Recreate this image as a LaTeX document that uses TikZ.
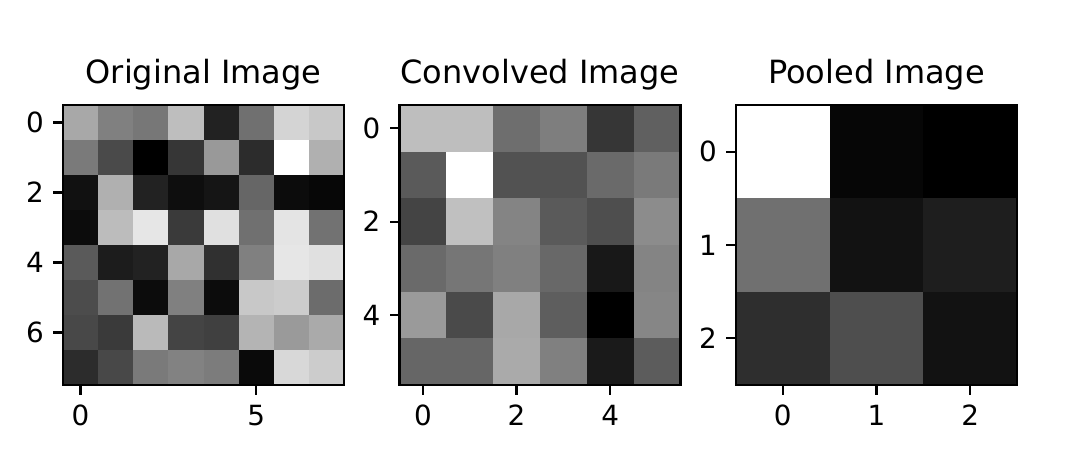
\documentclass[tikz,border=0pt]{standalone}
\usepackage{fontspec}
\setmainfont{DejaVu Sans}
\tikzset{
  axframe/.style={draw=black, line width=2.2pt},
  tickmark/.style={line width=2.2pt},
  ticklabel/.style={font=\fontsize{27.8}{33}\selectfont, inner sep=0pt},
  paneltitle/.style={font=\fontsize{32}{39}\selectfont, inner sep=0pt, anchor=base},
}
\begin{document}
\begin{tikzpicture}[x=1pt,y=-1pt]
\useasboundingbox (0,0) rectangle (1080,475);

% Original Image (8x8)
\foreach \row [count=\r from 0] in {
  {168,128,119,190,34,112,212,200},
  {122,74,0,54,153,44,255,176},
  {17,176,34,14,21,102,12,7},
  {12,188,230,58,224,112,228,114},
  {90,28,34,168,48,128,230,224},
  {76,114,12,128,12,200,204,108},
  {72,58,186,68,64,180,154,170},
  {44,72,122,130,124,10,216,204}}{
  \foreach \v [count=\c from 0] in \row {
    \definecolor{cellc}{RGB}{\v,\v,\v}
    \fill[cellc] ({63+\c*35.125},{105+\r*35}) rectangle +(35.5,35.4);
  }
}
\draw[axframe] (63,105) rectangle (344,385);
\node[paneltitle] (t1) at (203.5,83.5) {Original Image};
\foreach \c in {0,5}{
  \draw[tickmark] ({63+(\c+0.5)*35.125},385) -- +(0,9.7);
  \node[ticklabel,anchor=north] (xa\c) at ({63+(\c+0.5)*35.125},405) {\c};
}
\foreach \r in {0,2,4,6}{
  \draw[tickmark] (63,{105+(\r+0.5)*35}) -- +(-9.7,0);
  \node[ticklabel,anchor=east] (ya\r) at (44,{105+(\r+0.5)*35}) {\r};
}

% Convolved Image (6x6)
\foreach \row [count=\r from 0] in {
  {190,190,110,126,54,96},
  {90,255,82,82,106,122},
  {68,192,132,90,78,140},
  {106,118,128,104,24,132},
  {154,74,168,94,0,134},
  {102,102,170,128,26,92}}{
  \foreach \v [count=\c from 0] in \row {
    \definecolor{cellc}{RGB}{\v,\v,\v}
    \fill[cellc] ({399.5+\c*46.833},{105+\r*46.667}) rectangle +(47.2,47);
  }
}
\draw[axframe] (399.5,105) rectangle (680.5,385);
\node[paneltitle] (t2) at (540,83.5) {Convolved Image};
\foreach \c in {0,2,4}{
  \draw[tickmark] ({399.5+(\c+0.5)*46.833},385) -- +(0,9.7);
  \node[ticklabel,anchor=north] (xb\c) at ({399.5+(\c+0.5)*46.833},405) {\c};
}
\foreach \r in {0,2,4}{
  \draw[tickmark] (399.5,{105+(\r+0.5)*46.667}) -- +(-9.7,0);
  \node[ticklabel,anchor=east] (yb\r) at (380.5,{105+(\r+0.5)*46.667}) {\r};
}

% Pooled Image (3x3)
\foreach \row [count=\r from 0] in {
  {255,6,0},
  {112,18,30},
  {46,78,18}}{
  \foreach \v [count=\c from 0] in \row {
    \definecolor{cellc}{RGB}{\v,\v,\v}
    \fill[cellc] ({736+\c*93.667},{105+\r*93.333}) rectangle +(94,93.7);
  }
}
\draw[axframe] (736,105) rectangle (1017,385);
\node[paneltitle] (t3) at (876.5,83.5) {Pooled Image};
\foreach \c in {0,1,2}{
  \draw[tickmark] ({736+(\c+0.5)*93.667},385) -- +(0,9.7);
  \node[ticklabel,anchor=north] (xc\c) at ({736+(\c+0.5)*93.667},405) {\c};
}
\foreach \r in {0,1,2}{
  \draw[tickmark] (736,{105+(\r+0.5)*93.333}) -- +(-9.7,0);
  \node[ticklabel,anchor=east] (yc\r) at (717,{105+(\r+0.5)*93.333}) {\r};
}

\end{tikzpicture}
\end{document}
